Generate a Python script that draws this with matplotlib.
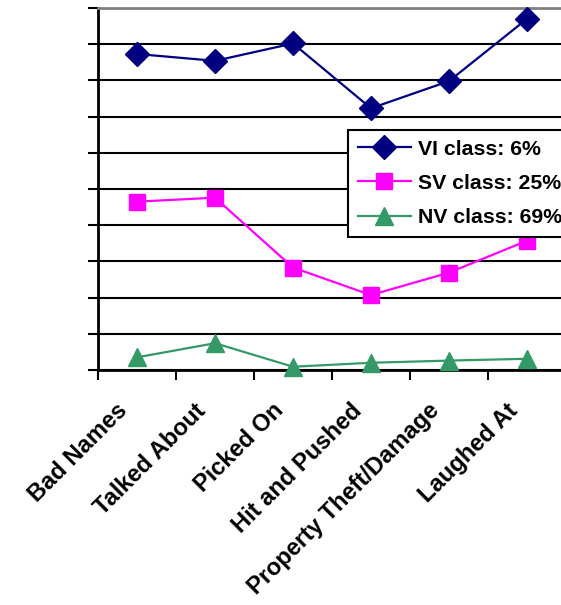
import matplotlib
matplotlib.use("Agg")
import matplotlib.pyplot as plt
from matplotlib.transforms import ScaledTranslation

categories = ["Bad Names", "Talked About", "Picked On", "Hit and Pushed",
              "Property Theft/Damage", "Laughed At"]
vi_values = [87.3, 85.4, 90.2, 72.3, 79.8, 97.0]
sv_values = [46.5, 47.6, 28.3, 20.7, 26.9, 35.7]
nv_values = [3.5, 7.4, 0.9, 2.0, 2.6, 3.1]
series_labels = ["VI class: 6%", "SV class: 25%", "NV class: 69%"]

W, H = 561, 605
fig = plt.figure(figsize=(W / 100, H / 100), dpi=100)
left, right, top, bottom = 98, 566, 8, 370
ax = fig.add_axes([left / W, 1 - bottom / H, (right - left) / W, (bottom - top) / H])

x = list(range(len(categories)))
ax.plot(x, vi_values, color="#000080", marker="D", markersize=12, linewidth=1.6,
        label=series_labels[0], zorder=5, clip_on=False)
ax.plot(x, sv_values, color="#FF00FF", marker="s", markersize=11, linewidth=1.6,
        label=series_labels[1], zorder=5, clip_on=False)
ax.plot(x, nv_values, color="#339966", marker="^", markersize=13, linewidth=1.6,
        label=series_labels[2], zorder=5, clip_on=False)

ax.set_xlim(-0.5, len(categories) - 0.5)
ax.set_ylim(0, 100)
ax.set_yticks(range(0, 101, 10))
ax.set_yticklabels([])
ax.yaxis.grid(True, color="black", linewidth=1.5)
ax.set_axisbelow(True)
ax.tick_params(axis="y", direction="out", length=7, width=1.5, color="black")

ax.set_xticks([i - 0.5 for i in range(len(categories) + 1)])
ax.set_xticklabels([])
ax.set_xticks(x, minor=True)
ax.set_xticklabels(categories, minor=True, rotation=45, ha="right", va="top",
                   rotation_mode="anchor", fontsize=17, fontweight="bold",
                   family="Liberation Sans")
ax.tick_params(axis="x", which="major", direction="out", length=7, width=1.5)
ax.tick_params(axis="x", which="minor", length=0, pad=0)
offset = ScaledTranslation(-21 / 100, -29 / 100, fig.dpi_scale_trans)
for lbl in ax.get_xticklabels(minor=True):
    lbl.set_transform(lbl.get_transform() + offset)

ax.spines["right"].set_visible(False)
ax.spines["top"].set_color("#808080")
ax.spines["top"].set_linewidth(2)
ax.spines["left"].set_linewidth(2)
ax.spines["bottom"].set_linewidth(2)

leg = ax.legend(loc="upper left", bbox_to_anchor=(348 / W, 1 - 130 / H),
                bbox_transform=fig.transFigure, frameon=True, fancybox=False,
                prop={"family": "Liberation Sans", "weight": "bold", "size": 15.3},
                borderpad=0.45, labelspacing=0.72, handlelength=2.5,
                handletextpad=0.35, borderaxespad=0)
leg.get_frame().set_edgecolor("black")
leg.get_frame().set_linewidth(1.5)
leg.get_frame().set_alpha(1)

fig.savefig("out.png", dpi=100)
